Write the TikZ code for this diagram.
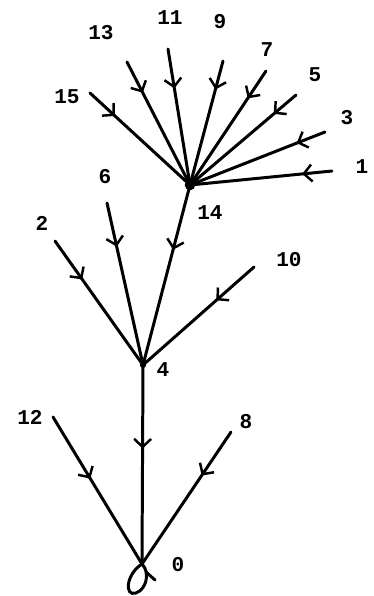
\documentclass[tikz,border=0pt]{standalone}
\usepackage{fontspec}
\setmonofont{Liberation Mono}
\usetikzlibrary{arrows.meta,decorations.markings}
\begin{document}
\begin{tikzpicture}[x=0.02cm,y=-0.02cm,
  edge/.style={line width=1.7pt,line cap=round},
  lab/.style={font=\ttfamily\bfseries\large,inner sep=0pt},
  arr/.style={postaction={decorate,decoration={markings,
      mark=at position #1 with {\arrow[line width=1.4pt]{Straight Barb[length=1.6mm,width=3.4mm]}}}}},
  hub/.style={circle,fill,inner sep=0pt,minimum size=6pt}]
\useasboundingbox (0,0) rectangle (373,596);
% internal nodes
\node[hub] (n14) at (190,185) {};
\node[hub,minimum size=3.5pt] (n4) at (143,365) {};
\coordinate (n0) at (142,564);
% leaves
\coordinate (n15) at (90,93);
\coordinate (n13) at (127,62);
\coordinate (n11) at (168,49);
\coordinate (n9) at (223,61);
\coordinate (n7) at (266,71);
\coordinate (n5) at (296,95);
\coordinate (n3) at (325,132);
\coordinate (n1) at (332,171);
\coordinate (n2) at (55,241);
\coordinate (n6) at (107,203);
\coordinate (n10) at (254,267);
\coordinate (n12) at (53,417);
\coordinate (n8) at (231,432);
% edges
\draw[edge,arr=0.25] (n15) -- (n14.center);
\draw[edge,arr=0.25] (n13) -- (n14.center);
\draw[edge,arr=0.29] (n11) -- (n14.center);
\draw[edge,arr=0.23] (n9) -- (n14.center);
\draw[edge,arr=0.24] (n7) -- (n14.center);
\draw[edge,arr=0.21] (n5) -- (n14.center);
\draw[edge,arr=0.21] (n3) -- (n14.center);
\draw[edge,arr=0.21] (n1) -- (n14.center);
\draw[edge,arr=0.31] (n2) -- (n4.center);
\draw[edge,arr=0.27] (n6) -- (n4.center);
\draw[edge,arr=0.36] (n14.center) -- (n4.center);
\draw[edge,arr=0.34] (n10) -- (n4.center);
\draw[edge,arr=0.42] (n4.center) -- (n0);
\draw[edge,arr=0.42] (n12) -- (n0);
\draw[edge,arr=0.33] (n8) -- (n0);
% self loop at 0
\draw[edge] (n0) .. controls (126,574) and (124,597) .. (136,593)
  .. controls (147,589) and (150,572) .. (n0);
\coordinate (t1) at (146,572);
\coordinate (t2) at (155,580);
\draw[edge] (t1) -- (t2);
% labels
\node[lab] (l15) at (67,97) {15};
\node[lab] (l13) at (101,33) {13};
\node[lab] (l11) at (170,18) {11};
\node[lab] (l9) at (220,22) {9};
\node[lab] (l7) at (267,50) {7};
\node[lab] (l5) at (315,75) {5};
\node[lab] (l3) at (347,118) {3};
\node[lab] (l1) at (362,167) {1};
\node[lab] (l14) at (210,213) {14};
\node[lab] (l6) at (105,177) {6};
\node[lab] (l2) at (42,223) {2};
\node[lab] (l10) at (289,260) {10};
\node[lab] (l4) at (163,370) {4};
\node[lab] (l12) at (30,417) {12};
\node[lab] (l8) at (246,422) {8};
\node[lab] (l0) at (178,565) {0};
\end{tikzpicture}
\end{document}
